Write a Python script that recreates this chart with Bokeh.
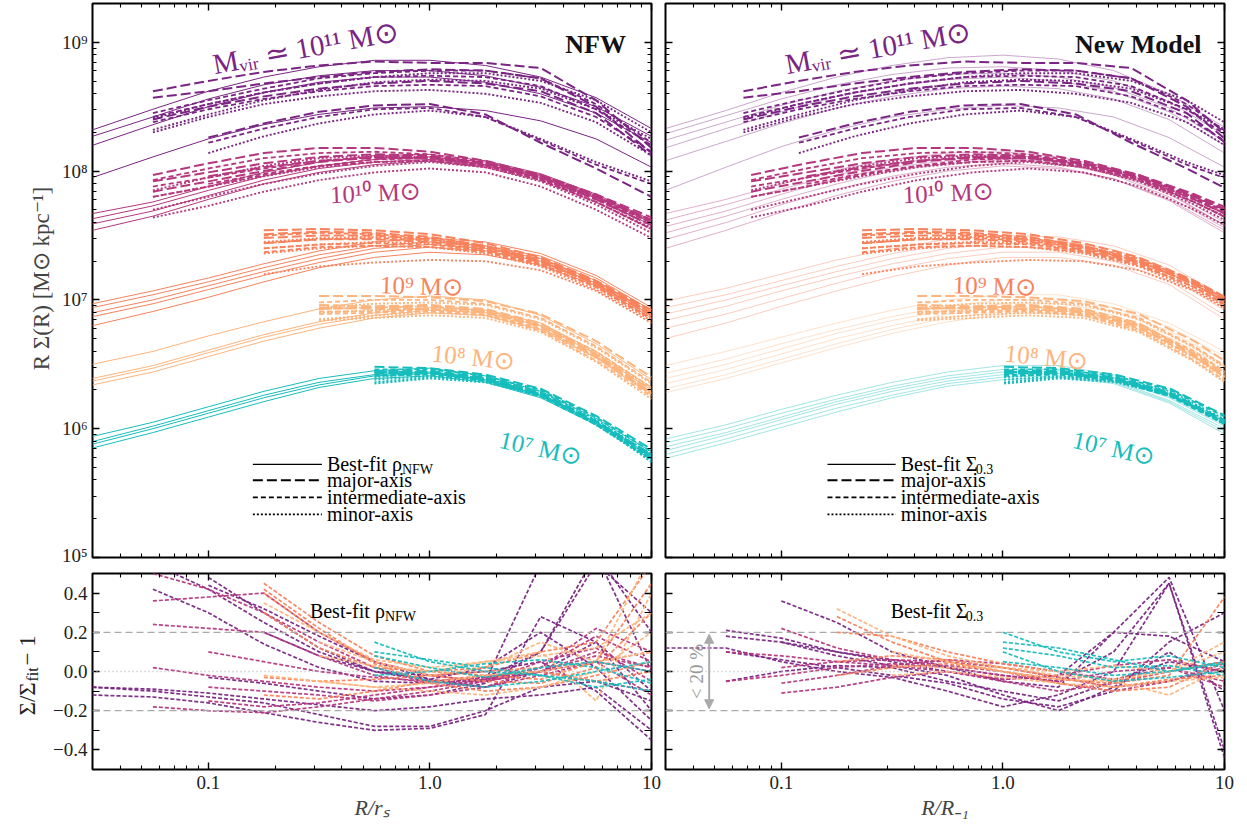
import math
from bokeh.plotting import figure
from bokeh.models import LogAxis, LinearAxis, FixedTicker, Label, Span, Arrow, NormalHead, Range1d, LogScale
from bokeh.layouts import column, row
from bokeh.embed import file_html
from bokeh.resources import INLINE

SERIF = "Liberation Serif"

# ---------------- data ----------------
X_GRID = [0.03, 0.0562, 0.1, 0.178, 0.316, 0.562, 1.0, 1.78, 3.16, 5.62, 10.0]
GROUPS = ["1e11", "1e10", "1e9", "1e8", "1e7"]
COLORS = {"1e11": "#7a2583", "1e10": "#b5377d", "1e9": "#f7825c", "1e8": "#fdb47d", "1e7": "#17bdbd"}

# best-fit curves, log10(R Sigma) on X_GRID  (NFW panel)
FIT_NFW = {
    "1e11": [[8.32, 8.48, 8.62, 8.73, 8.81, 8.86, 8.86, 8.82, 8.73, 8.57, 8.33],
             [8.27, 8.42, 8.56, 8.67, 8.74, 8.78, 8.78, 8.74, 8.65, 8.50, 8.27],
             [8.20, 8.36, 8.50, 8.61, 8.69, 8.73, 8.73, 8.69, 8.60, 8.45, 8.22],
             [7.95, 8.11, 8.25, 8.36, 8.44, 8.49, 8.50, 8.47, 8.39, 8.25, 8.03]],
    "1e10": [[7.67, 7.76, 7.88, 7.99, 8.07, 8.12, 8.13, 8.08, 7.98, 7.82, 7.62],
             [7.63, 7.73, 7.85, 7.96, 8.04, 8.09, 8.11, 8.07, 7.97, 7.81, 7.61],
             [7.59, 7.69, 7.81, 7.93, 8.02, 8.07, 8.09, 8.05, 7.96, 7.80, 7.60],
             [7.54, 7.65, 7.78, 7.90, 7.99, 8.05, 8.08, 8.04, 7.95, 7.79, 7.58]],
    "1e9": [[6.97, 7.07, 7.17, 7.28, 7.38, 7.45, 7.48, 7.45, 7.36, 7.19, 6.94],
            [6.94, 7.04, 7.14, 7.25, 7.35, 7.42, 7.45, 7.42, 7.34, 7.17, 6.92],
            [6.90, 7.00, 7.11, 7.22, 7.32, 7.40, 7.43, 7.40, 7.32, 7.15, 6.90],
            [6.87, 6.97, 7.08, 7.19, 7.29, 7.37, 7.41, 7.38, 7.30, 7.13, 6.88],
            [6.80, 6.91, 7.02, 7.14, 7.25, 7.33, 7.37, 7.35, 7.27, 7.11, 6.86]],
    "1e8": [[6.50, 6.60, 6.72, 6.83, 6.93, 7.00, 7.03, 7.00, 6.88, 6.66, 6.38],
            [6.39, 6.49, 6.61, 6.73, 6.83, 6.90, 6.94, 6.92, 6.82, 6.60, 6.32],
            [6.37, 6.47, 6.59, 6.71, 6.81, 6.88, 6.92, 6.90, 6.80, 6.58, 6.30],
            [6.34, 6.44, 6.56, 6.68, 6.78, 6.86, 6.90, 6.88, 6.77, 6.55, 6.26]],
    "1e7": [[5.94, 6.05, 6.17, 6.29, 6.39, 6.45, 6.47, 6.41, 6.29, 6.08, 5.82],
            [5.90, 6.02, 6.14, 6.26, 6.36, 6.42, 6.44, 6.38, 6.26, 6.05, 5.79],
            [5.88, 6.00, 6.12, 6.24, 6.34, 6.41, 6.43, 6.37, 6.25, 6.04, 5.78],
            [5.85, 5.97, 6.09, 6.21, 6.32, 6.39, 6.41, 6.36, 6.24, 6.03, 5.76]],
}

# best-fit curves, log10(R Sigma) on X_GRID  (new-model panel)
FIT_NEW = {
    "1e11": [[8.33, 8.47, 8.61, 8.73, 8.82, 8.88, 8.90, 8.87, 8.78, 8.60, 8.34],
             [8.29, 8.43, 8.56, 8.67, 8.75, 8.80, 8.81, 8.78, 8.70, 8.54, 8.28],
             [8.24, 8.38, 8.51, 8.62, 8.70, 8.75, 8.76, 8.73, 8.65, 8.49, 8.23],
             [8.18, 8.33, 8.46, 8.58, 8.66, 8.71, 8.73, 8.70, 8.62, 8.46, 8.20],
             [8.08, 8.23, 8.37, 8.49, 8.58, 8.64, 8.66, 8.64, 8.56, 8.40, 8.14],
             [7.85, 8.03, 8.19, 8.32, 8.42, 8.48, 8.51, 8.49, 8.42, 8.26, 8.03]],
    "1e10": [[7.67, 7.78, 7.90, 8.01, 8.09, 8.14, 8.15, 8.11, 8.02, 7.85, 7.60],
             [7.62, 7.74, 7.86, 7.97, 8.06, 8.11, 8.13, 8.09, 8.00, 7.83, 7.58],
             [7.57, 7.69, 7.82, 7.94, 8.03, 8.08, 8.10, 8.07, 7.98, 7.82, 7.58],
             [7.52, 7.65, 7.78, 7.90, 8.00, 8.06, 8.09, 8.06, 7.97, 7.80, 7.56],
             [7.47, 7.60, 7.74, 7.86, 7.96, 8.03, 8.06, 8.03, 7.94, 7.78, 7.54],
             [7.40, 7.54, 7.68, 7.81, 7.92, 8.00, 8.04, 8.02, 7.94, 7.77, 7.52]],
    "1e9": [[6.99, 7.09, 7.20, 7.31, 7.40, 7.47, 7.50, 7.49, 7.42, 7.27, 7.02],
            [6.94, 7.04, 7.15, 7.26, 7.36, 7.43, 7.47, 7.46, 7.39, 7.24, 6.98],
            [6.89, 7.00, 7.11, 7.22, 7.32, 7.40, 7.44, 7.43, 7.36, 7.21, 6.95],
            [6.84, 6.95, 7.07, 7.18, 7.28, 7.36, 7.41, 7.40, 7.33, 7.18, 6.92],
            [6.78, 6.89, 7.01, 7.13, 7.24, 7.32, 7.37, 7.37, 7.30, 7.15, 6.88],
            [6.70, 6.82, 6.95, 7.07, 7.18, 7.27, 7.33, 7.33, 7.27, 7.12, 6.85]],
    "1e8": [[6.49, 6.60, 6.71, 6.82, 6.92, 7.00, 7.04, 7.04, 6.97, 6.82, 6.60],
            [6.43, 6.54, 6.66, 6.77, 6.87, 6.95, 7.00, 7.00, 6.94, 6.79, 6.56],
            [6.39, 6.50, 6.62, 6.74, 6.84, 6.92, 6.97, 6.97, 6.91, 6.76, 6.53],
            [6.35, 6.46, 6.58, 6.70, 6.80, 6.89, 6.94, 6.94, 6.88, 6.73, 6.50],
            [6.31, 6.42, 6.54, 6.66, 6.77, 6.86, 6.91, 6.92, 6.86, 6.71, 6.48],
            [6.28, 6.39, 6.51, 6.63, 6.74, 6.83, 6.89, 6.90, 6.84, 6.69, 6.45]],
    "1e7": [[5.92, 6.03, 6.15, 6.26, 6.36, 6.44, 6.49, 6.49, 6.42, 6.27, 6.07],
            [5.89, 6.00, 6.12, 6.23, 6.33, 6.41, 6.46, 6.46, 6.40, 6.25, 6.04],
            [5.86, 5.97, 6.09, 6.21, 6.31, 6.39, 6.44, 6.45, 6.39, 6.24, 6.02],
            [5.83, 5.95, 6.07, 6.19, 6.29, 6.37, 6.42, 6.43, 6.37, 6.22, 6.00],
            [5.80, 5.92, 6.04, 6.16, 6.26, 6.35, 6.40, 6.41, 6.36, 6.21, 5.98],
            [5.77, 5.89, 6.01, 6.13, 6.24, 6.33, 6.38, 6.40, 6.35, 6.20, 5.96]],
}

# measured profiles: (axis, first X_GRID index, log10 values)
PROFILES = {
    "1e11": [("maj", 1, [8.62, 8.70, 8.77, 8.82, 8.85, 8.84, 8.84, 8.80, 8.55, 8.18]),
             ("int", 1, [8.45, 8.55, 8.64, 8.72, 8.76, 8.78, 8.78, 8.72, 8.52, 8.22]),
             ("min", 1, [8.41, 8.52, 8.61, 8.68, 8.73, 8.76, 8.76, 8.70, 8.55, 8.30]),
             ("maj", 1, [8.57, 8.62, 8.68, 8.73, 8.77, 8.79, 8.78, 8.72, 8.50, 8.14]),
             ("int", 1, [8.42, 8.52, 8.61, 8.68, 8.73, 8.74, 8.73, 8.66, 8.48, 8.20]),
             ("min", 1, [8.32, 8.44, 8.55, 8.63, 8.69, 8.71, 8.70, 8.64, 8.48, 8.25]),
             ("maj", 1, [8.40, 8.50, 8.58, 8.64, 8.68, 8.70, 8.68, 8.62, 8.45, 8.12]),
             ("int", 1, [8.38, 8.48, 8.56, 8.62, 8.66, 8.67, 8.66, 8.58, 8.42, 8.15]),
             ("min", 1, [8.30, 8.42, 8.52, 8.58, 8.62, 8.63, 8.60, 8.53, 8.38, 8.12]),
             ("maj", 2, [8.26, 8.37, 8.46, 8.51, 8.52, 8.44, 8.22, 8.02, 7.80]),
             ("int", 2, [8.22, 8.33, 8.42, 8.48, 8.49, 8.42, 8.24, 8.05, 7.90]),
             ("min", 2, [8.14, 8.27, 8.37, 8.44, 8.47, 8.42, 8.25, 8.07, 7.92])],
    "1e10": [("maj", 1, [7.97, 8.06, 8.14, 8.18, 8.18, 8.15, 8.08, 7.97, 7.80, 7.62]),
             ("int", 1, [7.93, 8.02, 8.10, 8.14, 8.15, 8.13, 8.07, 7.96, 7.79, 7.60]),
             ("min", 1, [7.85, 7.95, 8.04, 8.10, 8.12, 8.11, 8.05, 7.94, 7.76, 7.55]),
             ("maj", 1, [7.92, 7.99, 8.06, 8.11, 8.13, 8.12, 8.06, 7.97, 7.82, 7.64]),
             ("int", 1, [7.88, 7.95, 8.02, 8.08, 8.11, 8.10, 8.05, 7.95, 7.80, 7.60]),
             ("min", 1, [7.80, 7.88, 7.96, 8.03, 8.07, 8.08, 8.03, 7.93, 7.76, 7.56]),
             ("maj", 1, [7.84, 7.92, 8.00, 8.07, 8.11, 8.11, 8.06, 7.96, 7.81, 7.62]),
             ("int", 1, [7.80, 7.88, 7.97, 8.04, 8.09, 8.10, 8.05, 7.94, 7.78, 7.58]),
             ("min", 1, [7.70, 7.80, 7.90, 7.98, 8.04, 8.07, 8.03, 7.92, 7.74, 7.52]),
             ("maj", 2, [7.96, 8.03, 8.08, 8.10, 8.10, 8.06, 7.95, 7.78, 7.58]),
             ("int", 2, [7.90, 7.98, 8.04, 8.07, 8.08, 8.04, 7.93, 7.76, 7.55]),
             ("min", 1, [7.64, 7.73, 7.84, 7.93, 7.99, 8.02, 7.99, 7.88, 7.70, 7.48])],
    "1e9": [("maj", 3, [7.54, 7.55, 7.54, 7.51, 7.44, 7.33, 7.15, 6.92]),
            ("int", 3, [7.50, 7.52, 7.51, 7.48, 7.42, 7.32, 7.14, 6.90]),
            ("min", 3, [7.45, 7.48, 7.49, 7.47, 7.41, 7.30, 7.12, 6.88]),
            ("maj", 3, [7.51, 7.53, 7.52, 7.49, 7.42, 7.31, 7.14, 6.92]),
            ("int", 3, [7.44, 7.47, 7.48, 7.46, 7.40, 7.30, 7.12, 6.88]),
            ("min", 3, [7.40, 7.43, 7.45, 7.44, 7.38, 7.28, 7.10, 6.86]),
            ("maj", 3, [7.48, 7.50, 7.50, 7.47, 7.41, 7.30, 7.12, 6.88]),
            ("int", 3, [7.40, 7.43, 7.44, 7.43, 7.38, 7.28, 7.10, 6.85]),
            ("min", 3, [7.36, 7.40, 7.42, 7.41, 7.36, 7.26, 7.08, 6.84]),
            ("maj", 3, [7.44, 7.47, 7.47, 7.45, 7.39, 7.29, 7.13, 6.90]),
            ("int", 3, [7.37, 7.41, 7.42, 7.41, 7.37, 7.27, 7.10, 6.86]),
            ("min", 3, [7.20, 7.26, 7.29, 7.31, 7.30, 7.23, 7.07, 6.82])],
    "1e8": [("maj", 4, [7.03, 7.03, 7.02, 6.99, 6.89, 6.68, 6.40]),
            ("int", 4, [6.98, 7.00, 7.00, 6.97, 6.86, 6.64, 6.36]),
            ("min", 4, [6.94, 6.97, 6.98, 6.96, 6.85, 6.63, 6.35]),
            ("maj", 4, [6.96, 6.95, 6.96, 6.93, 6.82, 6.58, 6.30]),
            ("int", 4, [6.93, 6.94, 6.95, 6.92, 6.81, 6.60, 6.32]),
            ("min", 4, [6.90, 6.92, 6.93, 6.91, 6.80, 6.59, 6.31]),
            ("maj", 4, [6.94, 6.93, 6.93, 6.90, 6.79, 6.56, 6.27]),
            ("int", 4, [6.91, 6.91, 6.92, 6.89, 6.78, 6.56, 6.28]),
            ("min", 4, [6.85, 6.88, 6.90, 6.88, 6.77, 6.55, 6.27]),
            ("maj", 4, [6.93, 6.94, 6.95, 6.91, 6.80, 6.57, 6.28]),
            ("int", 4, [6.89, 6.90, 6.91, 6.88, 6.76, 6.53, 6.25]),
            ("min", 4, [6.84, 6.86, 6.88, 6.86, 6.75, 6.52, 6.23])],
    "1e7": [("maj", 5, [6.48, 6.47, 6.42, 6.31, 6.10, 5.84]),
            ("int", 5, [6.46, 6.46, 6.41, 6.30, 6.09, 5.82]),
            ("min", 5, [6.40, 6.43, 6.39, 6.29, 6.07, 5.80]),
            ("maj", 5, [6.45, 6.45, 6.40, 6.28, 6.06, 5.80]),
            ("int", 5, [6.44, 6.44, 6.39, 6.27, 6.05, 5.79]),
            ("min", 5, [6.36, 6.40, 6.37, 6.26, 6.04, 5.77]),
            ("maj", 5, [6.44, 6.44, 6.39, 6.27, 6.06, 5.78]),
            ("int", 5, [6.42, 6.43, 6.38, 6.26, 6.04, 5.77]),
            ("min", 5, [6.38, 6.41, 6.37, 6.27, 6.03, 5.75]),
            ("maj", 5, [6.43, 6.43, 6.38, 6.26, 6.05, 5.80]),
            ("int", 5, [6.41, 6.42, 6.37, 6.25, 6.03, 5.76]),
            ("min", 5, [6.35, 6.39, 6.36, 6.26, 6.05, 5.74])],
}

# ratio R_-1 / r_s per mass group (shift of profiles in the new-model panel)
X_SHIFT_NEW = {"1e11": 1.2, "1e10": 1.3, "1e9": 1.3, "1e8": 1.3, "1e7": 1.8}

# residuals Sigma/Sigma_fit - 1: (group, first X_GRID index, values)
RES_NFW = [
    ("1e11", 1, [0.42, 0.30, 0.14, 0.02, -0.05, -0.06, -0.03, 0.10, 0.60, 0.20]),
    ("1e11", 0, [-0.08, -0.10, -0.13, -0.16, -0.22, -0.28, -0.28, -0.20, -0.08, -0.05, -0.15]),
    ("1e11", 0, [-0.12, -0.13, -0.16, -0.21, -0.26, -0.30, -0.29, -0.22, 0.28, 0.15, -0.10]),
    ("1e11", 2, [0.48, 0.30, 0.12, 0.00, -0.02, 0.00, 0.05, -0.10, -0.35]),
    ("1e11", 1, [0.55, 0.42, 0.25, 0.10, 0.00, -0.05, -0.05, 0.55, 0.60, 0.00]),
    ("1e11", 2, [0.44, 0.32, 0.18, 0.05, -0.04, -0.08, 0.00, 0.15, -0.20]),
    ("1e11", 0, [-0.08, -0.09, -0.11, -0.14, -0.17, -0.20, -0.18, -0.14, -0.12, -0.08, -0.30]),
    ("1e11", 2, [-0.03, -0.06, -0.10, -0.14, -0.12, -0.06, 0.10, 0.55, 0.30]),
    ("1e11", 3, [0.20, 0.08, 0.00, -0.04, 0.02, 0.20, 0.02, -0.25]),
    ("1e10", 1, [0.36, 0.38, 0.40, 0.20, 0.05, -0.02, -0.05, 0.00, -0.05, -0.10]),
    ("1e10", 1, [0.24, 0.22, 0.20, 0.08, -0.02, -0.06, -0.04, 0.02, 0.18, 0.05]),
    ("1e10", 1, [-0.18, -0.20, -0.21, -0.18, -0.14, -0.10, -0.05, 0.05, 0.12, -0.05]),
    ("1e10", 2, [-0.08, -0.10, -0.12, -0.15, -0.12, -0.08, 0.02, 0.22, 0.10]),
    ("1e10", 1, [0.02, -0.02, -0.05, -0.08, -0.10, -0.08, -0.05, 0.00, 0.08, 0.02]),
    ("1e10", 2, [0.10, 0.05, 0.00, -0.03, -0.05, -0.03, 0.00, 0.10, 0.02]),
    ("1e10", 1, [0.50, 0.42, 0.30, 0.15, 0.02, -0.05, -0.08, -0.02, 0.05, -0.12]),
    ("1e10", 2, [-0.15, -0.18, -0.16, -0.12, -0.08, -0.04, 0.00, 0.05, 0.00]),
    ("1e9", 3, [0.45, 0.25, 0.08, 0.00, -0.02, -0.04, 0.05, 0.45]),
    ("1e9", 3, [0.40, 0.20, 0.05, -0.02, -0.05, -0.06, 0.02, 0.30]),
    ("1e9", 3, [0.30, 0.12, 0.02, 0.00, 0.02, 0.10, 0.15, 0.55]),
    ("1e9", 3, [-0.03, -0.05, -0.04, -0.02, 0.00, 0.02, 0.05, 0.10]),
    ("1e9", 3, [-0.12, -0.14, -0.10, -0.05, -0.02, 0.00, -0.05, 0.00]),
    ("1e9", 3, [0.42, 0.22, 0.04, -0.06, -0.10, -0.08, -0.02, 0.05]),
    ("1e8", 3, [0.35, 0.20, 0.06, 0.02, 0.05, 0.08, 0.12, 0.30]),
    ("1e8", 4, [0.08, 0.03, 0.00, 0.05, 0.10, -0.15, 0.40]),
    ("1e8", 4, [-0.05, -0.08, -0.06, -0.02, 0.00, 0.05, 0.10]),
    ("1e8", 3, [-0.02, -0.05, -0.08, -0.10, -0.12, -0.08, 0.00, 0.20]),
    ("1e8", 4, [0.15, 0.05, -0.02, 0.02, 0.15, 0.05, 0.60]),
    ("1e7", 5, [0.15, 0.05, 0.00, -0.02, -0.05, -0.10]),
    ("1e7", 5, [0.08, 0.02, -0.03, 0.02, 0.05, 0.00]),
    ("1e7", 5, [-0.02, 0.00, 0.04, 0.06, 0.02, -0.06]),
    ("1e7", 5, [0.02, -0.05, -0.08, -0.05, 0.00, 0.05]),
    ("1e7", 5, [0.10, 0.06, 0.02, -0.02, -0.08, -0.04]),
]
RES_NEW = [
    ("1e11", 2, [0.36, 0.25, 0.10, 0.02, -0.02, -0.05, 0.10, 0.45, -0.40]),
    ("1e11", 1, [0.21, 0.17, 0.10, 0.06, 0.02, -0.05, -0.08, 0.20, 0.48, -0.20]),
    ("1e11", 0, [0.12, 0.12, 0.05, 0.00, -0.03, -0.10, -0.18, -0.12, 0.00, 0.45, -0.44]),
    ("1e11", 1, [0.18, 0.15, 0.08, 0.03, -0.02, -0.12, -0.20, -0.08, 0.10, -0.10]),
    ("1e11", 1, [-0.05, 0.00, 0.03, 0.02, -0.05, -0.10, -0.15, -0.05, 0.05, 0.00]),
    ("1e11", 2, [0.15, 0.10, 0.05, 0.00, -0.04, -0.02, 0.20, 0.18, 0.05]),
    ("1e11", 1, [0.10, 0.06, 0.02, -0.02, -0.06, -0.14, -0.18, -0.10, 0.15, 0.30]),
    ("1e10", 1, [-0.05, -0.02, 0.02, 0.04, 0.02, -0.02, -0.05, 0.00, 0.02, -0.05]),
    ("1e10", 2, [-0.11, -0.08, -0.03, 0.00, -0.05, -0.10, -0.06, 0.00, 0.05]),
    ("1e10", 2, [0.22, 0.12, 0.06, 0.03, 0.00, -0.06, -0.10, -0.05, 0.02]),
    ("1e10", 1, [0.10, 0.08, 0.05, 0.03, 0.00, -0.04, -0.02, 0.03, 0.06, 0.00]),
    ("1e10", 2, [0.02, 0.05, 0.06, 0.05, 0.02, -0.03, -0.08, -0.05, 0.04]),
    ("1e10", 2, [-0.06, -0.02, 0.03, 0.06, 0.04, 0.00, -0.04, 0.02, -0.08]),
    ("1e9", 3, [0.28, 0.15, 0.05, 0.00, -0.04, -0.06, -0.02, 0.38]),
    ("1e9", 3, [0.20, 0.18, 0.10, 0.04, 0.00, -0.05, 0.00, 0.05]),
    ("1e9", 3, [0.05, 0.08, 0.06, 0.02, -0.03, -0.08, -0.04, -0.02]),
    ("1e9", 3, [-0.02, 0.02, 0.04, 0.00, -0.06, -0.10, -0.08, 0.05]),
    ("1e8", 4, [0.10, 0.05, 0.00, -0.04, -0.05, -0.12, 0.02]),
    ("1e8", 4, [0.03, 0.02, 0.02, 0.00, 0.03, 0.00, 0.10]),
    ("1e8", 4, [-0.02, 0.00, -0.03, -0.06, -0.08, -0.05, -0.03]),
    ("1e8", 3, [0.32, 0.18, 0.08, 0.02, -0.02, -0.04, 0.00, 0.15]),
    ("1e7", 6, [0.20, 0.10, 0.05, 0.08, 0.02]),
    ("1e7", 6, [0.12, 0.08, 0.02, 0.03, -0.02]),
    ("1e7", 6, [0.05, 0.02, -0.02, 0.00, 0.05]),
    ("1e7", 6, [0.10, 0.00, -0.05, -0.03, 0.00]),
    ("1e7", 6, [0.15, 0.12, 0.06, 0.00, 0.04]),
]

X_TICKS = [0.1, 1.0, 10.0]
X_TICK_LABELS = {0.1: "0.1", 1.0: "1.0", 10.0: "10"}
Y_TICKS_TOP = [1e5, 1e6, 1e7, 1e8, 1e9]
Y_TICK_LABELS_TOP = {1e5: "10⁵", 1e6: "10⁶", 1e7: "10⁷", 1e8: "10⁸", 1e9: "10⁹"}
Y_TICKS_RES = [-0.4, -0.2, 0.0, 0.2, 0.4]
Y_MINOR_RES = [-0.3, -0.1, 0.1, 0.3]
Y_TICK_LABELS_RES = {-0.4: "−0.4", -0.2: "−0.2", 0.0: "0.0", 0.2: "0.2", 0.4: "0.4"}
MASS_LABELS = {"1e11": "Mᵥᵢᵣ ≃ 10¹¹ M⊙", "1e10": "10¹⁰ M⊙", "1e9": "10⁹ M⊙",
               "1e8": "10⁸ M⊙", "1e7": "10⁷ M⊙"}

# ---------------- layout helpers (pixel -> data for annotation placement) ----------------
def px_l(px):
    return 10 ** ((px - 430) / 221.5)

def px_r(px):
    return 10 ** ((px - 1002) / 221.0)

def py_top(py):
    return 10 ** (9 - (py - 42) / 128.5)

def py_res(py):
    return (671 - py) / 195.0

X_MINOR = [m * 10 ** e for e in (-2, -1, 0) for m in range(2, 10) if 0.03 <= m * 10 ** e <= 10]
Y_MINOR_TOP = [m * 10 ** e for e in range(5, 10) for m in range(2, 10) if m * 10 ** e <= 2e9]

STY = {"maj": ("10 4", 2.0), "int": ("5 3", 1.8), "min": ("2 2", 1.9)}


def style_axis(ax, labels, minor_len=4):
    ax.major_tick_in = 7
    ax.major_tick_out = 0
    ax.minor_tick_in = minor_len
    ax.minor_tick_out = 0
    ax.major_tick_line_width = 1.4
    ax.minor_tick_line_width = 1.1
    ax.major_tick_line_color = "black"
    ax.minor_tick_line_color = "black"
    ax.axis_line_color = None
    ax.major_label_text_font = SERIF
    ax.major_label_text_color = "#222222"
    if labels:
        ax.major_label_text_font_size = "19px"
        ax.major_label_standoff = 5
    else:
        ax.major_label_text_font_size = "1px"
        ax.major_label_text_alpha = 0.0
        ax.major_label_standoff = 0


def make_fig(top, ml, mr, mt, mb, xlabels, ylabels):
    kw = dict(x_axis_type=None, y_axis_type=None, x_range=Range1d(0.03, 10), frame_width=559,
              output_backend="svg", toolbar_location=None,
              min_border_left=ml, min_border_right=mr, min_border_top=mt, min_border_bottom=mb,
              background_fill_color="white", border_fill_color="white")
    if top:
        p = figure(y_range=Range1d(1e5, 2e9), frame_height=554, **kw)
        p.y_scale = LogScale()
    else:
        p = figure(y_range=Range1d(-0.5, 0.5), frame_height=196, **kw)
    p.x_scale = LogScale()
    p.outline_line_color = "black"
    p.outline_line_width = 2
    xt = FixedTicker(ticks=X_TICKS, minor_ticks=X_MINOR)
    if top:
        yt = FixedTicker(ticks=Y_TICKS_TOP, minor_ticks=Y_MINOR_TOP)
        ymin = 4
    else:
        yt = FixedTicker(ticks=Y_TICKS_RES, minor_ticks=Y_MINOR_RES)
        ymin = 7
    xb = LogAxis(ticker=xt)
    style_axis(xb, xlabels)
    if xlabels:
        xb.major_label_overrides = X_TICK_LABELS
        xb.major_label_standoff = 6
    p.add_layout(xb, "below")
    yl = LogAxis(ticker=yt) if top else LinearAxis(ticker=yt)
    style_axis(yl, ylabels, ymin)
    if ylabels:
        yl.major_label_overrides = Y_TICK_LABELS_TOP if top else Y_TICK_LABELS_RES
    p.add_layout(yl, "left")
    xa = LogAxis(ticker=xt)
    style_axis(xa, False)
    p.add_layout(xa, "above")
    ya = LogAxis(ticker=yt) if top else LinearAxis(ticker=yt)
    style_axis(ya, False, ymin)
    p.add_layout(ya, "right")
    return p, xb, yl


def lab(p, x, y, text, size, color="black", angle=0.0, align="left", baseline="alphabetic",
        style="normal", xo=0, yo=0):
    p.add_layout(Label(x=x, y=y, text=text, text_font=SERIF, text_font_size=size,
                       text_color=color, angle=angle, text_align=align, text_baseline=baseline,
                       text_font_style=style, x_offset=xo, y_offset=yo))


def draw_top(p, fits, shift, fit_alpha, fit_width):
    for g in GROUPS:
        c = COLORS[g]
        p.multi_line([X_GRID for _ in fits[g]], [[10 ** v for v in f] for f in fits[g]],
                     line_color=c, line_alpha=fit_alpha, line_width=fit_width)
    for g in GROUPS:
        c = COLORS[g]
        for kind in ("maj", "int", "min"):
            xs, ys = [], []
            for k, s, vals in PROFILES[g]:
                if k != kind:
                    continue
                xs.append([x * shift[g] for x in X_GRID[s:]])
                ys.append([10 ** v for v in vals])
            dash, w = STY[kind]
            p.multi_line(xs, ys, line_color=c, line_width=w, line_dash=dash)


def draw_res(p, res):
    for g in GROUPS:
        xs, ys = [], []
        for gg, s, vals in res:
            if gg != g:
                continue
            xs.append(X_GRID[s:])
            ys.append(vals)
        p.multi_line(xs, ys, line_color=COLORS[g], line_width=1.7, line_dash="4 2", line_alpha=0.95)
    p.add_layout(Span(location=0.2, dimension="width", line_color="#aaaaaa", line_dash="7 4", line_width=1.3))
    p.add_layout(Span(location=-0.2, dimension="width", line_color="#aaaaaa", line_dash="7 4", line_width=1.3))
    p.add_layout(Span(location=0.0, dimension="width", line_color="#bbbbbb", line_dash="1 3", line_width=1.3))


def legend(p, pxf, x0, x1, xt, sub):
    rows = [(463, None), (479, "maj"), (496, "int"), (513, "min")]
    texts = ["Best-fit " + sub[0], "major-axis", "intermediate-axis", "minor-axis"]
    for (py, kind), t in zip(rows, texts):
        y = py_top(py)
        if kind is None:
            p.line([pxf(x0), pxf(x1)], [y, y], line_color="black", line_width=1.2)
        else:
            dash, w = STY[kind]
            p.line([pxf(x0), pxf(x1)], [y, y], line_color="black", line_width=w, line_dash=dash)
        lab(p, pxf(xt), y, t, "20px", baseline="middle")
    lab(p, pxf(xt), py_top(463), sub[1], "14px", baseline="middle", xo=sub[2], yo=-5)


# ---------------- figures ----------------
p1, p1x, p1y = make_fig(True, 92, 12, 3, 8, False, True)
p2, p2x, p2y = make_fig(True, 2, 23, 3, 8, False, False)
p3, p3x, p3y = make_fig(False, 52, 12, 8, 62, True, True)
p4, p4x, p4y = make_fig(False, 2, 23, 8, 62, True, False)

p1y.axis_label = "R Σ(R) [M⊙ kpc⁻¹]"
p1y.axis_label_text_font = SERIF
p1y.axis_label_text_font_size = "23px"
p1y.axis_label_text_font_style = "normal"
p1y.axis_label_standoff = 5

for ax, t in ((p3x, "R/rₛ"), (p4x, "R/R₋₁")):
    ax.axis_label = t
    ax.axis_label_text_font = SERIF
    ax.axis_label_text_font_size = "22px"
    ax.axis_label_text_font_style = "italic"
    ax.axis_label_standoff = 3

draw_top(p1, FIT_NFW, {g: 1.0 for g in GROUPS}, 1.0, 1.0)
draw_top(p2, FIT_NEW, X_SHIFT_NEW, 0.4, 1.0)
draw_res(p3, RES_NFW)
draw_res(p4, RES_NEW)

# mass labels
for p, pxf in ((p1, px_l), (p2, px_r)):
    off = 0 if pxf is px_l else 572
    lab(p, pxf(213 + off), py_top(64), MASS_LABELS["1e11"], "29px", COLORS["1e11"], angle=0.18)
    lab(p, pxf(330 + off), py_top(194), MASS_LABELS["1e10"], "25px", COLORS["1e10"], angle=0.04)
    lab(p, pxf(380 + off), py_top(284), MASS_LABELS["1e9"], "25px", COLORS["1e9"], angle=-0.03)
    lab(p, pxf(432 + off), py_top(352), MASS_LABELS["1e8"], "25px", COLORS["1e8"], angle=-0.1)
    lab(p, pxf(500 + off), py_top(438), MASS_LABELS["1e7"], "25px", COLORS["1e7"], angle=-0.22)

lab(p1, px_l(626), py_top(44), "NFW", "26px", "#111111", align="right", style="bold")
lab(p2, px_r(1200), py_top(44), "New Model", "26px", "#111111", align="right", style="bold")

legend(p1, px_l, 253, 322, 327, ("ρ", "NFW", 75))
legend(p2, px_r, 827, 895, 900, ("Σ", "0.3", 75))

# residual panel labels
lab(p3, px_l(310), py_res(611), "Best-fit ρ", "20px")
lab(p3, px_l(310), py_res(611), "NFW", "14px", xo=75, yo=-5)
lab(p4, px_r(890), py_res(611), "Best-fit Σ", "20px")
lab(p4, px_r(890), py_res(611), "0.3", "14px", xo=75, yo=-5)

# narrow strip holding the residual y label (pixel coordinates, y from top)
ylab = figure(frame_width=40, frame_height=266, x_range=Range1d(0, 40), y_range=Range1d(266, 0),
              x_axis_type=None, y_axis_type=None, output_backend="svg", toolbar_location=None,
              min_border_left=0, min_border_right=0, min_border_top=0, min_border_bottom=0,
              outline_line_color=None, background_fill_color="white", border_fill_color="white")
lab(ylab, 27, 142, "Σ/Σ", "23px", "#222222", angle=math.pi / 2)
lab(ylab, 27, 108, "fit", "16px", "#222222", angle=math.pi / 2, xo=5)
lab(ylab, 27, 92, "− 1", "23px", "#222222", angle=math.pi / 2)

# < 20 % marker
p4.add_layout(Arrow(start=NormalHead(size=9, fill_color="#aaaaaa", line_color="#aaaaaa"),
                    end=NormalHead(size=9, fill_color="#aaaaaa", line_color="#aaaaaa"),
                    x_start=px_r(709), y_start=-0.19, x_end=px_r(709), y_end=0.19,
                    line_color="#aaaaaa", line_width=2))
lab(p4, px_r(696), 0.0, "< 20 %", "19px", "#999999", angle=math.pi / 2, align="center", baseline="middle")

layout = column(row(p1, p2), row(ylab, p3, p4))
open("out.html", "w").write(file_html(layout, INLINE))
